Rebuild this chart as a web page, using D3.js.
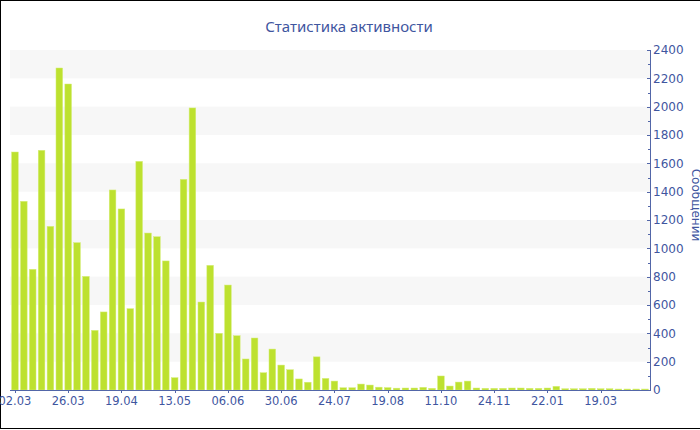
<!DOCTYPE html>
<html>
<head>
<meta charset="utf-8">
<script src="https://cdn.jsdelivr.net/npm/d3@7"></script>
<style>
  html, body { margin: 0; padding: 0; background: #fff; }
  svg { display: block; }
  text { font-family: "DejaVu Sans", Verdana, sans-serif; }
</style>
</head>
<body>
<svg id="chart" width="700" height="430"></svg>
<script>
// ---- data ----
const title = "Статистика активности";
const yTitle = "Сообщений";
const values = [
  1680, 1332, 852, 1692, 1155, 2273, 2160, 1040, 802, 421,
  551, 1412, 1278, 574, 1614, 1108, 1082, 911, 87, 1487,
  1991, 621, 880, 400, 741, 383, 219, 367, 122, 289,
  176, 143, 78, 55, 234, 82, 63, 16, 16, 42,
  35, 20, 17, 13, 14, 14, 19, 12, 99, 28,
  56, 63, 14, 12, 12, 12, 14, 14, 12, 12,
  14, 26, 9, 9, 9, 12, 9, 9, 7, 7,
  7, 7
];
const tickIndex = [0, 6, 12, 18, 24, 30, 36, 42, 48, 54, 60, 66];
const tickLabels = ["02.03", "26.03", "19.04", "13.05", "06.06", "30.06",
                    "24.07", "19.08", "11.10", "24.11", "22.01", "19.03"];
const yMajor = [0, 200, 400, 600, 800, 1000, 1200, 1400, 1600, 1800, 2000, 2200, 2400];

// ---- layout ----
const W = 700, H = 430;
const pLeft = 10, pRight = 650, pTop = 50, pBottom = 390;
const textColor = "#3f569f";
const axisColor = "#5266a8";
const barColor = "#bde12f";

const svg = d3.select("#chart");

// frame
svg.append("rect").attr("x", 0.5).attr("y", 0.5).attr("width", W).attr("height", H - 2)
  .attr("fill", "#fff").attr("stroke", "#000").attr("stroke-width", 1);

const x = d3.scaleBand()
  .domain(d3.range(values.length))
  .range([pLeft + 0.5, pRight - 0.5])
  .paddingInner(0.25)
  .paddingOuter(0.125);

const y = d3.scaleLinear().domain([0, 2400]).range([pBottom, pTop]);

// alternating bands
const bands = d3.range(0, yMajor.length - 1).filter(i => i % 2 === 1);
svg.append("g").selectAll("rect").data(bands).join("rect")
  .attr("x", pLeft)
  .attr("width", pRight - pLeft)
  .attr("y", i => y(yMajor[i + 1]))
  .attr("height", i => y(yMajor[i]) - y(yMajor[i + 1]))
  .attr("fill", "#f7f7f7");

// bars
svg.append("g").selectAll("rect").data(values).join("rect")
  .attr("x", (d, i) => x(i))
  .attr("width", x.bandwidth())
  .attr("y", d => y(d))
  .attr("height", d => y(0) - y(d))
  .attr("fill", barColor)
  .attr("stroke", "#d6ee7a")
  .attr("stroke-width", 0.5);

// y axis (right)
const yAxis = svg.append("g").attr("transform", `translate(${pRight},0)`);
yAxis.append("line").attr("x1", 0.5).attr("x2", 0.5).attr("y1", pTop).attr("y2", pBottom)
  .attr("stroke", axisColor);
const minor = d3.range(100, 2400, 200);
yAxis.selectAll("line.minor").data(minor).join("line").attr("class", "minor")
  .attr("x1", -2).attr("x2", 0.5)
  .attr("y1", d => Math.round(y(d)) + 0.5).attr("y2", d => Math.round(y(d)) + 0.5)
  .attr("stroke", axisColor);
yAxis.selectAll("line.major").data(yMajor).join("line").attr("class", "major")
  .attr("x1", -3).attr("x2", 1)
  .attr("y1", d => Math.round(y(d)) + 0.5).attr("y2", d => Math.round(y(d)) + 0.5)
  .attr("stroke", axisColor);
yAxis.selectAll("text").data(yMajor).join("text")
  .attr("x", 3).attr("y", d => y(d)).attr("dy", "0.35em")
  .attr("fill", textColor).attr("font-size", 12)
  .text(d => d);

// x axis
const xAxis = svg.append("g");
xAxis.append("line").attr("x1", pLeft).attr("x2", pRight).attr("y1", pBottom + 0.5).attr("y2", pBottom + 0.5)
  .attr("stroke", axisColor);
xAxis.selectAll("line.tick").data(tickIndex).join("line").attr("class", "tick")
  .attr("x1", i => Math.round(x(i) + x.bandwidth() / 2) + 0.5)
  .attr("x2", i => Math.round(x(i) + x.bandwidth() / 2) + 0.5)
  .attr("y1", pBottom).attr("y2", pBottom + 3)
  .attr("stroke", axisColor);
xAxis.selectAll("text").data(tickIndex).join("text")
  .attr("x", i => x(i) + x.bandwidth() / 2)
  .attr("y", pBottom + 15)
  .attr("text-anchor", "middle")
  .attr("fill", textColor).attr("font-size", 11.5)
  .text((d, k) => tickLabels[k]);

// title
svg.append("text").attr("x", 349).attr("y", 31.5).attr("text-anchor", "middle")
  .attr("fill", textColor).attr("font-size", 15)
  .style("font-family", "'Noto Sans', 'DejaVu Sans', sans-serif")
  .text(title);

// y title
svg.append("text")
  .attr("transform", `translate(692,205) rotate(90)`)
  .attr("text-anchor", "middle")
  .attr("fill", textColor).attr("font-size", 12)
  .text(yTitle);
</script>
</body>
</html>
